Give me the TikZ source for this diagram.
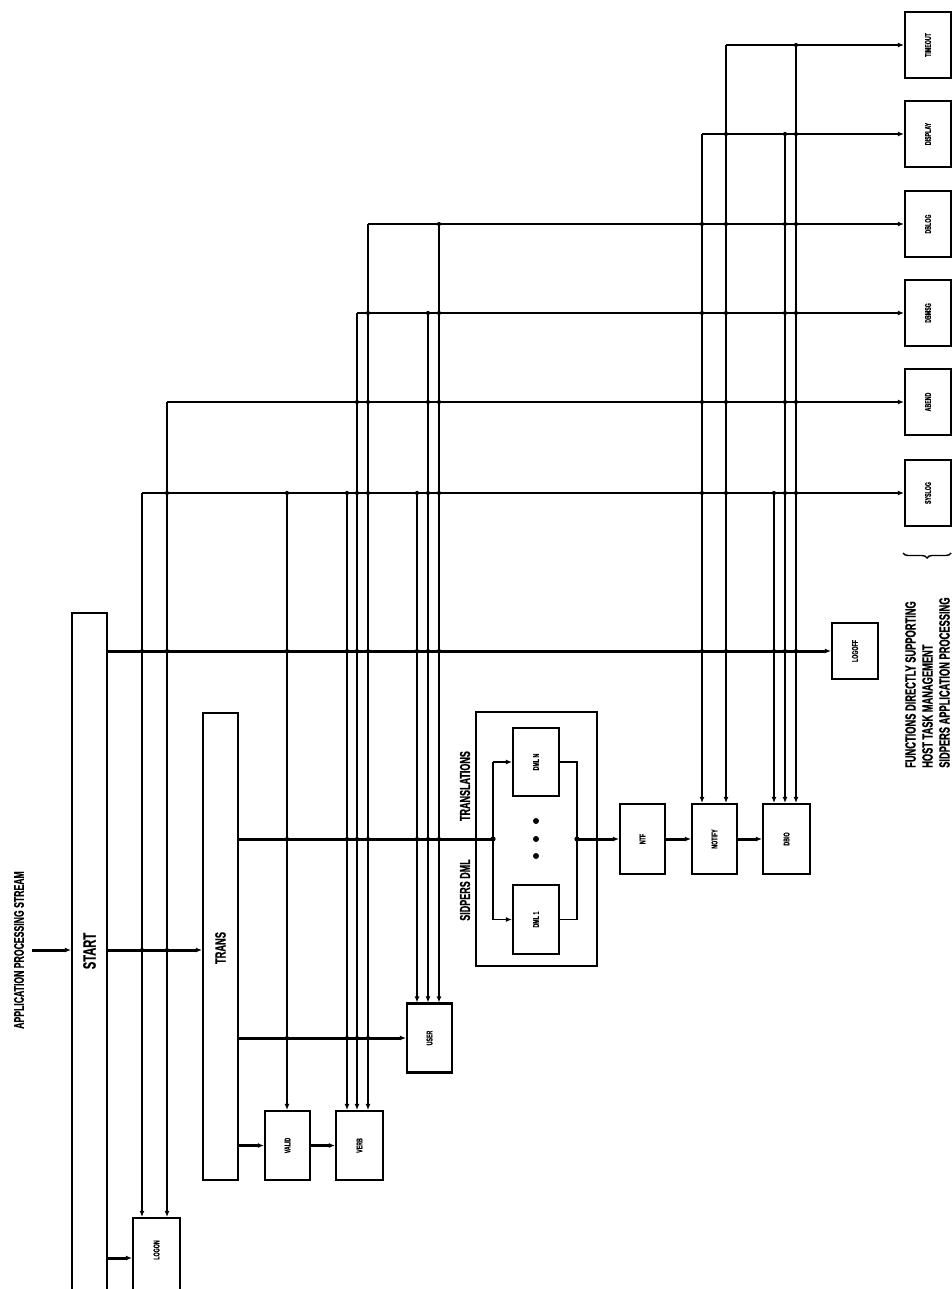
\documentclass[tikz,border=0pt]{standalone}
\usepackage{fontspec}
\newfontfamily\cond[FakeStretch=0.62,FakeBold=0.6,UprightFont={* Bold}]{Liberation Sans}
\usetikzlibrary{arrows.meta,decorations.pathreplacing}
\begin{document}
\begin{tikzpicture}[x=1pt,y=-1pt,
  box/.style={draw,line width=2.1pt,inner sep=0pt},
  lbl/.style={font=\cond\fontsize{8.5}{8.5}\selectfont,rotate=90},
  big/.style={font=\cond\fontsize{#1}{#1}\selectfont,rotate=90},
  ln/.style={line width=1.4pt},
  hv/.style={line width=3pt},
  tipa/.style={-{Latex[length=6pt,width=5pt]}},
  jdot/.style={circle,fill,inner sep=0pt,minimum size=3.6pt}]
\fill[white] (0,0) rectangle (952,1289);
\useasboundingbox (0,0) rectangle (952,1289);

% main bars
\node[box,minimum width=35pt,minimum height=690pt] (start) at (89.5,958) {};
\node[big=18] (startlbl) at (89.5,951) {START};
\node[box,minimum width=35pt,minimum height=467pt] (trans) at (220.5,946.5) {};
\node[big=15] (translbl) at (220.5,948) {TRANS};
\coordinate (ain) at (32,950);
\node[big=14] (apps) at (19,950) {APPLICATION PROCESSING STREAM};

% boxes
\node[box,minimum width=47pt,minimum height=80pt] (logon) at (156.5,1258) {};
\node[lbl] (logonlbl) at (156.5,1250) {LOGON};
\node[box,minimum width=46pt,minimum height=56pt,label={[lbl]center:LOGOFF}] (logoff) at (855,651) {};
\node[box,minimum width=45pt,minimum height=69pt,label={[lbl]center:VALID}] (valid) at (287.5,1145.5) {};
\node[box,minimum width=47pt,minimum height=69pt,label={[lbl]center:VERB}] (verb) at (359.5,1145.5) {};
\node[box,minimum width=45pt,minimum height=69pt,label={[lbl]center:USER}] (user) at (429.5,1038) {};
\node[box,minimum width=45pt,minimum height=70pt,label={[lbl]center:NTF}] (ntf) at (642.5,839) {};
\node[box,minimum width=45pt,minimum height=70pt,label={[lbl]center:NOTIFY}] (notify) at (714.5,839) {};
\node[box,minimum width=47pt,minimum height=70pt,label={[lbl]center:DBIO}] (dbio) at (786.5,839) {};

% DML group
\node[box,line width=1.8pt,minimum width=121pt,minimum height=254pt] (dmlc) at (536.5,839) {};
\node[box,minimum width=46pt,minimum height=68pt,label={[lbl]center:DML N}] (dmln) at (536,762) {};
\node[box,minimum width=46pt,minimum height=69pt,label={[lbl]center:DML 1}] (dml1) at (536,919.5) {};
\node[jdot,minimum size=6pt] (e1) at (536,821) {};
\node[jdot,minimum size=6pt] (e2) at (536,839) {};
\node[jdot,minimum size=6pt] (e3) at (536,856) {};
\node[big=14.5] (transl) at (465,786) {TRANSLATIONS};
\node[big=14.5] (sidml) at (465,890) {SIDPERS DML};
\coordinate (jl) at (493,839);
\coordinate (jr) at (577,839);

% right column boxes
\node[box,minimum width=46pt,minimum height=66pt,label={[lbl]center:TIMEOUT}] (r1) at (928,45) {};
\node[box,minimum width=46pt,minimum height=66pt,label={[lbl]center:DISPLAY}] (r2) at (928,134) {};
\node[box,minimum width=46pt,minimum height=66pt,label={[lbl]center:DBLOG}] (r3) at (928,224) {};
\node[box,minimum width=46pt,minimum height=66pt,label={[lbl]center:DBMSG}] (r4) at (928,313) {};
\node[box,minimum width=46pt,minimum height=66pt,label={[lbl]center:ABEND}] (r5) at (928,402) {};
\node[box,minimum width=46pt,minimum height=66pt,label={[lbl]center:SYSLOG}] (r6) at (928,493) {};
\draw[ln,decorate,decoration={brace,amplitude=5pt,mirror}] (903,553) -- (951,553);
\node[font=\cond\fontsize{15}{17}\selectfont,rotate=90,align=left,anchor=north west,inner sep=0pt] (note) at (905,768)
  {FUNCTIONS DIRECTLY SUPPORTING\\HOST TASK MANAGEMENT\\SIDPERS APPLICATION PROCESSING};

% feedback verticals (start points on rows)
\coordinate (v1) at (142,493);
\coordinate (v2) at (167,402);
\coordinate (v3) at (287,493);
\coordinate (v4) at (347,493);
\coordinate (v5) at (357,313);
\coordinate (v6) at (368,224);
\coordinate (v7) at (417,493);
\coordinate (v8) at (428,313);
\coordinate (v9) at (439,224);
\coordinate (v10) at (702,134);
\coordinate (v11) at (726,45);
\coordinate (v12) at (774,493);
\coordinate (v13) at (785,134);
\coordinate (v14) at (796,45);

% rows
\draw[ln,tipa] (v11) -- (r1.west);
\draw[ln,tipa] (v10) -- (r2.west);
\draw[ln,tipa] (v6) -- (r3.west);
\draw[ln,tipa] (v5) -- (r4.west);
\draw[ln,tipa] (v2) -- (r5.west);
\draw[ln,tipa] (v1) -- (r6.west);

% verticals
\draw[ln,tipa] (v1) -- (v1 |- logon.north);
\draw[ln,tipa] (v2) -- (v2 |- logon.north);
\draw[ln,tipa] (v3) -- (v3 |- valid.north);
\draw[ln,tipa] (v4) -- (v4 |- verb.north);
\draw[ln,tipa] (v5) -- (v5 |- verb.north);
\draw[ln,tipa] (v6) -- (v6 |- verb.north);
\draw[ln,tipa] (v7) -- (v7 |- user.north);
\draw[ln,tipa] (v8) -- (v8 |- user.north);
\draw[ln,tipa] (v9) -- (v9 |- user.north);
\draw[ln,tipa] (v10) -- (v10 |- notify.north);
\draw[ln,tipa] (v11) -- (v11 |- notify.north);
\draw[ln,tipa] (v12) -- (v12 |- dbio.north);
\draw[ln,tipa] (v13) -- (v13 |- dbio.north);
\draw[ln,tipa] (v14) -- (v14 |- dbio.north);

% heavy flow lines
\draw[hv,tipa] (ain) -- (ain -| start.west);
\draw[hv,tipa] (ain -| start.east) -- (ain -| trans.west);
\draw[hv,tipa] (start.east |- logoff.west) -- (logoff.west);
\draw[hv,tipa] (start.east |- logon.west) -- (logon.west);
\draw[hv] (trans.east |- jl) -- (jl);
\draw[hv,tipa] (trans.east |- user.west) -- (user.west);
\draw[hv,tipa] (trans.east |- valid.west) -- (valid.west);
\draw[hv,tipa] (valid.east) -- (verb.west);
\draw[hv,tipa] (jr) -- (ntf.west);
\draw[hv,tipa] (ntf.east) -- (notify.west);
\draw[hv,tipa] (notify.east) -- (dbio.west);

% DML internal
\draw[ln] (jl |- dmln.west) -- (jl |- dml1.west);
\draw[ln,tipa] (jl |- dmln.west) -- (dmln.west);
\draw[ln,tipa] (jl |- dml1.west) -- (dml1.west);
\draw[ln] (dmln.east) -- (jr |- dmln.east) -- (jr |- dml1.east) -- (dml1.east);
\fill (jl) circle (2.6);
\fill (jr) circle (2.6);

% crossing / junction dots
\foreach \x/\y in {796/45,
  726/134,785/134,796/134,
  439/224,702/224,726/224,785/224,796/224,
  368/313,428/313,439/313,702/313,726/313,785/313,796/313,
  357/402,368/402,428/402,439/402,702/402,726/402,785/402,796/402,
  167/493,287/493,347/493,357/493,368/493,417/493,428/493,439/493,702/493,726/493,774/493,785/493,796/493,
  142/651,167/651,287/651,347/651,357/651,368/651,417/651,428/651,439/651,702/651,726/651,774/651,785/651,796/651,
  287/839,347/839,357/839,368/839,417/839,428/839,439/839,
  287/1038,347/1038,357/1038,368/1038,
  142/950,167/950}
  \fill (\x,\y) circle (2.1);
\end{tikzpicture}
\end{document}
